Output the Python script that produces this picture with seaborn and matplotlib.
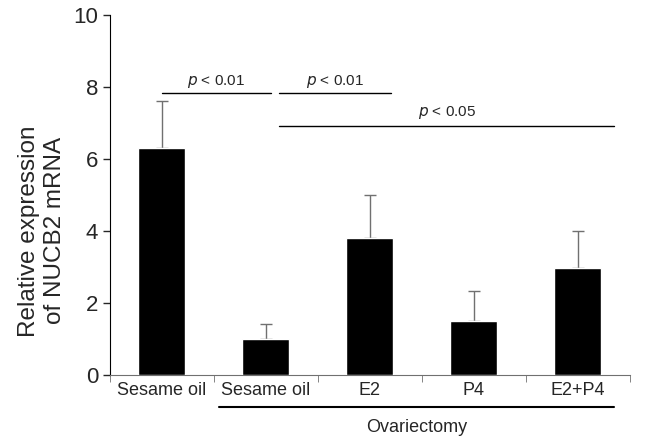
import numpy as np
import pandas as pd
import seaborn as sns
import matplotlib.pyplot as plt

groups = ['Sesame oil', 'Sesame oil ', 'E2', 'P4', 'E2+P4']
tick_labels = ['Sesame oil', 'Sesame oil', 'E2', 'P4', 'E2+P4']
means = [6.3, 1.0, 3.8, 1.5, 2.97]
sems = [1.3, 0.42, 1.2, 0.82, 1.03]

sns.set_style('ticks')
plt.rcParams['font.family'] = ['Liberation Sans', 'DejaVu Sans']

df = pd.DataFrame({'group': groups, 'expr': means})

fig = plt.figure(figsize=(6.54, 4.37), dpi=100)
ax = fig.add_axes([0.168, 0.142, 0.795, 0.824])

sns.barplot(data=df, x='group', y='expr', color='black', width=0.45,
            saturation=1, errorbar=None, ax=ax, zorder=3)

# upper-only error bars (lower cap hidden behind the bar)
xs = np.arange(len(groups))
ax.errorbar(xs, means, yerr=[np.zeros(len(sems)), sems], fmt='none',
            ecolor='#707070', elinewidth=1, capsize=4.3, capthick=1, zorder=2)

ax.set_xlim(-0.5, 4.5)
ax.set_ylim(0, 10)
ax.set_yticks([0, 2, 4, 6, 8, 10])
ax.tick_params(axis='y', labelsize=16, length=5, width=1, direction='out')

# ticks between categories, labels centred under bars
ax.set_xticks(xs)
ax.set_xticklabels(tick_labels, fontsize=13)
ax.tick_params(axis='x', length=0, pad=5)
ax.set_xticks(np.arange(-0.5, 4.6, 1), minor=True)
ax.tick_params(axis='x', which='minor', length=5, color='#707070')

ax.set_xlabel('')
ax.set_ylabel('Relative expression\nof NUCB2 mRNA', fontsize=17.5,
              linespacing=1.2)
ax.yaxis.set_label_coords(-0.085, 0.40)

sns.despine(ax=ax)
ax.spines['left'].set_color('black')
ax.spines['bottom'].set_color('#707070')

# significance lines
def sig(x0, x1, y, text, ty):
    ax.plot([x0, x1], [y, y], color='black', lw=1, clip_on=False)
    ax.text((x0 + x1) / 2, ty, text, ha='center', va='center', fontsize=11)

sig(0.0, 1.05, 7.83, r'$\it{p}$ < 0.01', 8.16)
sig(1.13, 2.2, 7.83, r'$\it{p}$ < 0.01', 8.16)
sig(1.13, 4.35, 6.92, r'$\it{p}$ < 0.05', 7.3)

# ovariectomy group bracket
ax.plot([0.55, 4.35], [-0.9, -0.9], color='black', lw=1.5, clip_on=False)
ax.text(2.45, -1.45, 'Ovariectomy', ha='center', va='center', fontsize=13)

fig.savefig('out.png', dpi=100)
